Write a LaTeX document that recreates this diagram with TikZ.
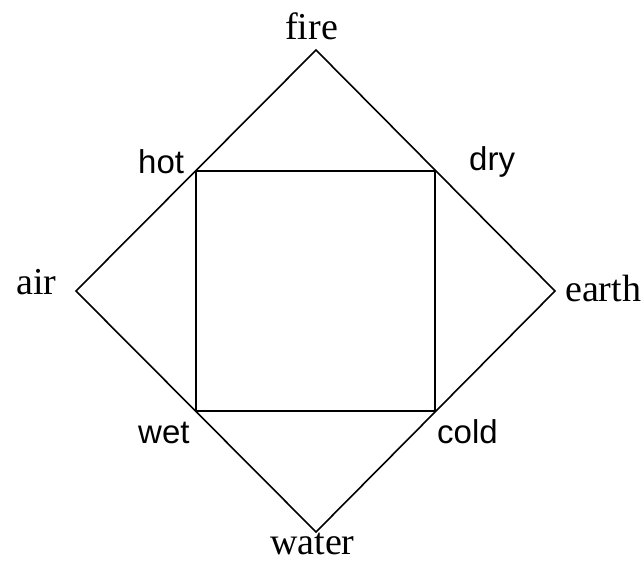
\documentclass[tikz,border=0pt]{standalone}
\usepackage{fontspec}
\setmainfont{Liberation Serif}
\newfontfamily\lblsans{Liberation Sans}
\begin{document}
\begin{tikzpicture}[x=1pt,y=-1pt,
  serifl/.style={anchor=base west,inner sep=0pt,font=\fontsize{38}{40}\selectfont},
  sansl/.style={anchor=base west,inner sep=0pt,font=\lblsans\fontsize{33}{35}\selectfont},
  edge/.style={line width=1.6pt,line join=miter}]
\useasboundingbox (0,0) rectangle (644,564);
\coordinate (T) at (316,50);
\coordinate (L) at (76,291);
\coordinate (R) at (555,291);
\coordinate (B) at (316,532);
\coordinate (HOT) at (196,171);
\coordinate (DRY) at (435,171);
\coordinate (COLD) at (435,411);
\coordinate (WET) at (196,411);
\draw[edge] (T) -- (R) -- (B) -- (L) -- cycle;
\draw[edge] (HOT) -- (DRY) -- (COLD) -- (WET) -- cycle;
\node[serifl] (fire) at (285,40) {fire};
\node[serifl] (air) at (16,294) {air};
\node[serifl] (earth) at (565,301) {earth};
\node[serifl] (water) at (270,554) {water};
\node[sansl] (hot) at (138,173) {hot};
\node[sansl] (dry) at (469,171) {dry};
\node[sansl] (wet) at (138,443) {wet};
\node[sansl] (cold) at (437,443) {cold};
\end{tikzpicture}
\end{document}
